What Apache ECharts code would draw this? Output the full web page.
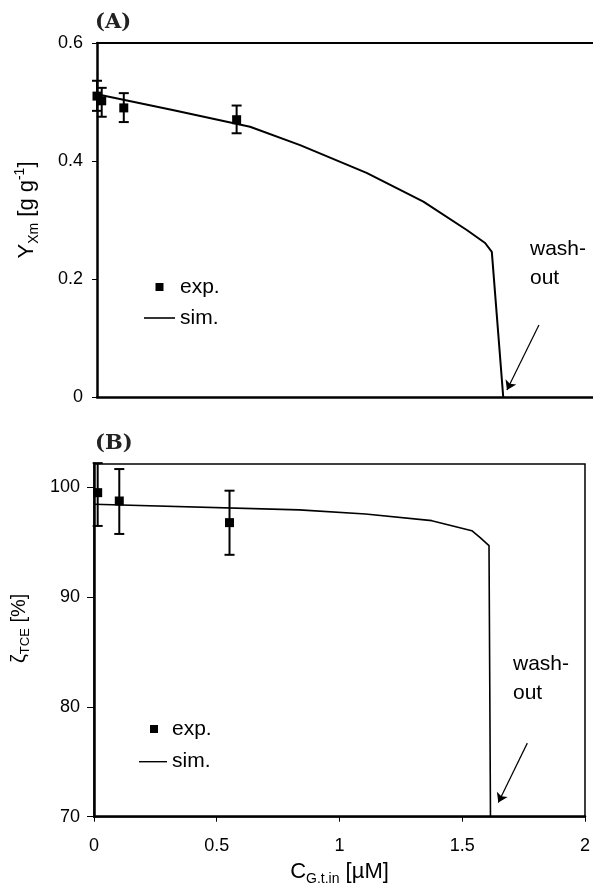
<!DOCTYPE html>
<html>
<head>
<meta charset="utf-8">
<script src="https://cdn.jsdelivr.net/npm/echarts@6/dist/echarts.min.js"></script>
<style>
  html, body { margin: 0; padding: 0; background: #fff; }
  #chart { width: 593px; height: 888px; }
</style>
</head>
<body>
<div id="chart"></div>
<script>
// panel A: biomass yield
const simAX = [0, 0.3, 0.617, 0.819, 1.087, 1.316, 1.491, 1.565, 1.592, 1.638];
const simAY = [0.513, 0.487, 0.458, 0.427, 0.380, 0.331, 0.283, 0.261, 0.246, 0];
const expAX = [0, 0.019, 0.108, 0.563];
const expAY = [0.510, 0.502, 0.490, 0.470];
const expALow = [0.485, 0.475, 0.466, 0.447];
const expAHigh = [0.536, 0.524, 0.515, 0.494];
const arrowA = [[1.782, 0.122], [1.653, 0.012]];

// panel B: TCE degradation
const simBX = [0, 0.836, 1.106, 1.376, 1.539, 1.573, 1.609, 1.615];
const simBY = [98.45, 97.94, 97.57, 96.96, 96.05, 95.42, 94.69, 70];
const expBX = [0.015, 0.103, 0.552];
const expBY = [99.51, 98.75, 96.78];
const expBLow = [96.48, 95.75, 93.85];
const expBHigh = [102.2, 101.66, 99.69];
const arrowB = [[1.765, 76.7], [1.647, 71.3]];

const yTicksA = [0, 0.6, 0.2];   // min, max, interval
const yTicksB = [70, 102.12, 10];
const xTicks = [0, 2, 0.5];

const zip = (a, b) => a.map((v, i) => [v, b[i]]);
const font = "'Liberation Sans', Arial, sans-serif";

const errorBars = (params, api) => {
  const lo = api.coord([api.value(0), api.value(1)]);
  const hi = api.coord([api.value(0), api.value(2)]);
  const w = 5;
  const st = { stroke: '#000', lineWidth: 2 };
  return {
    type: 'group',
    children: [
      { type: 'line', shape: { x1: lo[0], y1: lo[1], x2: hi[0], y2: hi[1] }, style: st },
      { type: 'line', shape: { x1: lo[0] - w, y1: lo[1], x2: lo[0] + w, y2: lo[1] }, style: st },
      { type: 'line', shape: { x1: hi[0] - w, y1: hi[1], x2: hi[0] + w, y2: hi[1] }, style: st },
    ],
  };
};

const axisBase = {
  type: 'value',
  splitLine: { show: false },
  axisLine: { show: true, onZero: false, lineStyle: { color: '#000', width: 2.5 } },
  axisTick: { show: true, length: 5, lineStyle: { color: '#000', width: 1 } },
  axisLabel: { color: '#000', fontFamily: font, fontSize: 18, margin: 14 },
};

const richFor = (size, sub) => ({
  n: { fontFamily: font, fontSize: size, lineHeight: size + 6, color: '#000' },
  s: { fontFamily: font, fontSize: sub, lineHeight: sub, verticalAlign: 'bottom', color: '#000' },
  p: { fontFamily: font, fontSize: sub, lineHeight: sub, verticalAlign: 'top', color: '#000' },
});

const legendText = { fontFamily: font, fontSize: 21, lineHeight: 24, color: '#000' };

const arrowLine = (pts) => ({
  silent: true, symbol: ['none', 'arrow'], symbolSize: 9,
  label: { show: false },
  lineStyle: { color: '#000', width: 1.2, type: 'solid' },
  data: [[{ coord: pts[0] }, { coord: pts[1] }]],
});

const chart = echarts.init(document.getElementById('chart'));

chart.setOption({
  animation: false,
  grid: [
    { left: 97, top: 43, width: 496, height: 354 },
    { left: 94, top: 464, width: 493, height: 352.7, show: true, borderColor: '#000', borderWidth: 1.5 },
  ],
  legend: [
    {
      orient: 'vertical', left: 144, top: 275, itemGap: 7, padding: 0,
      itemWidth: 31, itemHeight: 10, textStyle: legendText,
      data: [
        { name: 'exp.', icon: 'path://M0,0M31,10M11.5,1h8v8h-8z' },
        { name: 'sim.', icon: 'path://M0,0M31,10M0,4.2h31v1.6h-31z' },
      ],
    },
    {
      orient: 'vertical', left: 139, top: 717, itemGap: 8.7, padding: 0,
      itemWidth: 28, itemHeight: 10, textStyle: legendText,
      data: [
        { name: 'exp.', icon: 'path://M0,0M28,10M11,1h8v8h-8z' },
        { name: 'sim.', icon: 'path://M0,0M28,10M0,4.3h28v1.4h-28z' },
      ],
    },
  ],
  xAxis: [
    {
      ...axisBase, gridIndex: 0, min: xTicks[0], max: xTicks[1],
      axisTick: { show: false }, axisLabel: { show: false },
    },
    {
      ...axisBase, gridIndex: 0, position: 'top', min: xTicks[0], max: xTicks[1],
      axisLine: { show: true, onZero: false, lineStyle: { color: '#000', width: 2 } },
      axisTick: { show: false }, axisLabel: { show: false },
    },
    {
      ...axisBase, gridIndex: 1, min: xTicks[0], max: xTicks[1], interval: xTicks[2],
      axisLabel: { ...axisBase.axisLabel, margin: 20 },
      name: '{n|C}{s|G.t.in}{n| [µM]}',
      nameLocation: 'middle', nameGap: 41,
      nameTextStyle: { rich: richFor(22, 14) },
    },
  ],
  yAxis: [
    {
      ...axisBase, gridIndex: 0, min: yTicksA[0], max: yTicksA[1], interval: yTicksA[2],
      name: '{n|Y}{s|Xm}{n| [g g}{p|-1}{n|]}',
      nameLocation: 'middle', nameGap: 56,
      nameTextStyle: { rich: richFor(22, 14), padding: [0, 0, 0, 20] },
    },
    {
      ...axisBase, gridIndex: 1, min: yTicksB[0], max: yTicksB[1], interval: yTicksB[2],
      axisLabel: { ...axisBase.axisLabel, showMaxLabel: false },
      axisTick: { ...axisBase.axisTick, length: 7 },
      name: '{n|ζ}{s|TCE}{n| [%]}',
      nameLocation: 'middle', nameGap: 62,
      nameTextStyle: { rich: richFor(20, 13), padding: [0, 0, 0, 24] },
    },
  ],
  series: [
    {
      name: 'sim.', type: 'line', xAxisIndex: 0, yAxisIndex: 0,
      data: zip(simAX, simAY), symbol: 'none',
      lineStyle: { color: '#000', width: 2 }, itemStyle: { color: '#000' },
      markLine: arrowLine(arrowA),
    },
    {
      name: 'exp.', type: 'scatter', xAxisIndex: 0, yAxisIndex: 0,
      data: zip(expAX, expAY), symbol: 'rect', symbolSize: 9,
      itemStyle: { color: '#000', opacity: 1 }, z: 4,
    },
    {
      type: 'custom', xAxisIndex: 0, yAxisIndex: 0,
      data: expAX.map((x, i) => [x, expALow[i], expAHigh[i]]),
      renderItem: errorBars, z: 3,
    },
    {
      name: 'sim.', type: 'line', xAxisIndex: 2, yAxisIndex: 1,
      data: zip(simBX, simBY), symbol: 'none',
      lineStyle: { color: '#000', width: 1.6 }, itemStyle: { color: '#000' },
      markLine: arrowLine(arrowB),
    },
    {
      name: 'exp.', type: 'scatter', xAxisIndex: 2, yAxisIndex: 1,
      data: zip(expBX, expBY), symbol: 'rect', symbolSize: 9,
      itemStyle: { color: '#000', opacity: 1 }, z: 4,
    },
    {
      type: 'custom', xAxisIndex: 2, yAxisIndex: 1,
      data: expBX.map((x, i) => [x, expBLow[i], expBHigh[i]]),
      renderItem: errorBars, z: 3,
    },
  ],
  graphic: [
    { type: 'text', left: 95, top: 12, style: { text: '(A)', fontFamily: "'DejaVu Serif', serif", fontWeight: 'bold', fontSize: 21, fill: '#222' } },
    { type: 'text', left: 95, top: 433, style: { text: '(B)', fontFamily: "'DejaVu Serif', serif", fontWeight: 'bold', fontSize: 21, fill: '#222' } },
    { type: 'text', left: 530, top: 235, style: { text: 'wash-\nout', fontFamily: font, fontSize: 21, lineHeight: 29, fill: '#000' } },
    { type: 'text', left: 513, top: 650, style: { text: 'wash-\nout', fontFamily: font, fontSize: 21, lineHeight: 29, fill: '#000' } },
  ],
});

window.addEventListener('resize', () => chart.resize());
</script>
</body>
</html>
